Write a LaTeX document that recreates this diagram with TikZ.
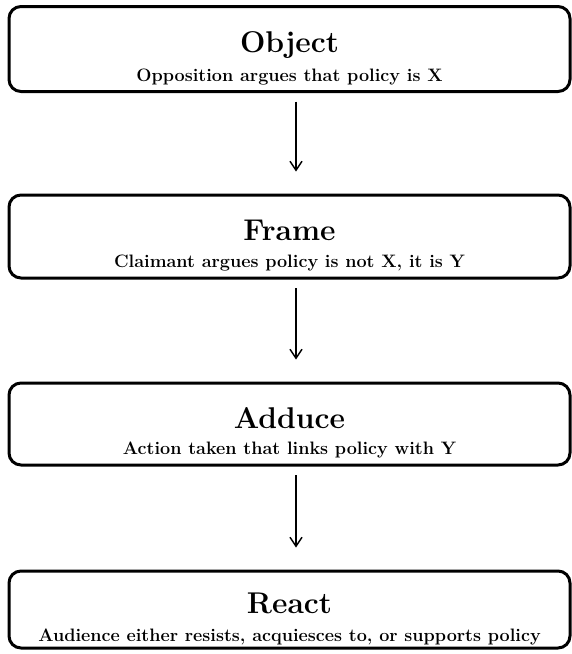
\documentclass[tikz,border=0pt]{standalone}
\usetikzlibrary{arrows.meta}
\begin{document}
\begin{tikzpicture}[x=1pt,y=-1pt,
  stagebox/.style={draw=black, line width=3pt, rounded corners=12pt, minimum width=561pt, inner sep=0pt, fill=white},
  stagetitle/.style={font=\bfseries\fontsize{30}{31}\selectfont, anchor=base, inner sep=0pt},
  stagesub/.style={font=\bfseries\fontsize{18}{19}\selectfont, anchor=base, inner sep=0pt},
  flowarrow/.style={draw=black, line width=1.4pt, -{Straight Barb[length=9pt,width=12pt,line width=1.4pt]}}]
\useasboundingbox (0,0) rectangle (572,654);
% boxes
\node[stagebox, minimum height=85pt] (b1) at (289.5,49) {};
\node[stagebox, minimum height=83pt] (b2) at (289.5,236.5) {};
\node[stagebox, minimum height=82pt] (b3) at (289.5,424) {};
\node[stagebox, minimum height=77pt] (b4) at (289.5,609.5) {};
% texts
\node[stagetitle] (t1) at (289.5,52) {Object};
\node[stagesub] (s1) at (289.5,81) {Opposition argues that policy is X};
\node[stagetitle] (t2) at (289.5,240.5) {Frame};
\node[stagesub] (s2) at (289.5,267.5) {Claimant argues policy is not X, it is Y};
\node[stagetitle] (t3) at (289.5,428.5) {Adduce};
\node[stagesub] (s3) at (289.5,454.5) {Action taken that links policy with Y};
\node[stagetitle] (t4) at (289.5,613) {React};
\node[stagesub] (s4) at (289.5,641) {Audience either resists, acquiesces to, or supports policy};
% arrows
\draw[flowarrow] ([xshift=6.5pt,yshift=-8.5pt]b1.south) -- ([xshift=6.5pt,yshift=22pt]b2.north);
\draw[flowarrow] ([xshift=6.5pt,yshift=-8.5pt]b2.south) -- ([xshift=6.5pt,yshift=22pt]b3.north);
\draw[flowarrow] ([xshift=6.5pt,yshift=-8.5pt]b3.south) -- ([xshift=6.5pt,yshift=22pt]b4.north);
\end{tikzpicture}
\end{document}
